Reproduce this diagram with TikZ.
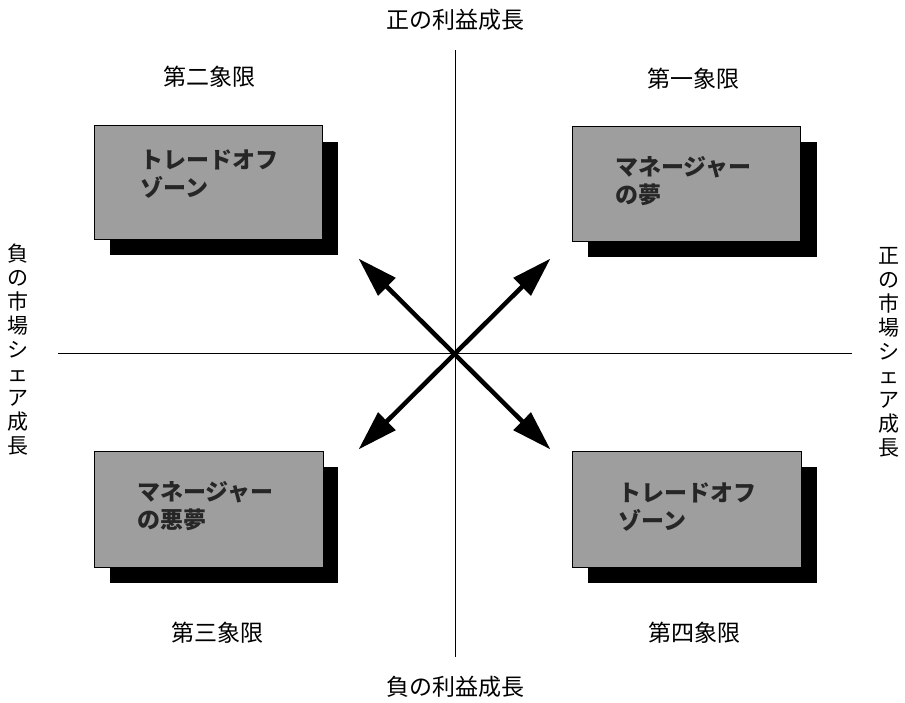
\documentclass[tikz,border=0pt]{standalone}
\usepackage{fontspec}
\setmainfont{Noto Sans CJK JP}
\usetikzlibrary{arrows.meta}
\tikzset{
  lbl/.style={font=\fontsize{23}{26}\selectfont, inner sep=0pt},
  vlbl/.style={font=\fontsize{21}{24}\selectfont, inner sep=0pt, align=center},
  shadowbox/.style={fill=black, draw=none},
  zonebox/.style={fill=black!38, draw=black, line width=1pt},
  zonetext/.style={font=\fontsize{23}{28}\selectfont\bfseries, text=black!85, align=left, anchor=north west, inner sep=0pt},
  axis/.style={line width=1pt},
  arr/.style={line width=4.5pt, {Triangle[length=40pt,width=24pt]}-{Triangle[length=40pt,width=24pt]}, shorten <=-2pt, shorten >=-2pt}
}
\begin{document}
\begin{tikzpicture}[x=1pt,y=-1pt]
\useasboundingbox (0,0) rectangle (905,702);
% axes
\coordinate (vt) at (455,50);
\coordinate (vb) at (455,657);
\coordinate (hl) at (58,353);
\coordinate (hr) at (852,353);
\coordinate (c) at (455,353);
\draw[axis] (vt) -- (vb);
\draw[axis] (hl) -- (hr);
% boxes: shadows
\fill[shadowbox] (110,142) rectangle (338,255);
\fill[shadowbox] (588,142) rectangle (817,257);
\fill[shadowbox] (110,467) rectangle (338,583);
\fill[shadowbox] (588,467) rectangle (817,583);
% boxes
\node[zonebox, minimum width=228pt, minimum height=114pt, anchor=north west] (b2) at (94,125) {};
\node[zonebox, minimum width=228pt, minimum height=115pt, anchor=north west] (b1) at (572,126) {};
\node[zonebox, minimum width=229pt, minimum height=116pt, anchor=north west] (b3) at (94,451) {};
\node[zonebox, minimum width=229pt, minimum height=116pt, anchor=north west] (b4) at (572,451) {};
% box texts
\node[zonetext] (t2) at (140,150) {トレードオフ\\ゾーン};
\node[zonetext] (t1) at (615,156) {マネージャー\\の夢};
\node[zonetext] (t3) at (137,481) {マネージャー\\の悪夢};
\node[zonetext] (t4) at (618,483) {トレードオフ\\ゾーン};
% quadrant labels
\node[lbl] (q2) at (209,77) {第二象限};
\node[lbl] (q1) at (693,79) {第一象限};
\node[lbl] (q3) at (217,633) {第三象限};
\node[lbl] (q4) at (694,633) {第四象限};
\node[lbl] (top) at (455,20) {正の利益成長};
\node[lbl] (bot) at (455,687) {負の利益成長};
\node[vlbl] (left) at (18,350) {負\\の\\市\\場\\シ\\ェ\\ア\\成\\長};
\node[vlbl] (right) at (889,352) {正\\の\\市\\場\\シ\\ェ\\ア\\成\\長};
% arrows
\coordinate (atl) at (360,260);
\coordinate (atr) at (549,260);
\coordinate (abl) at (360,448);
\coordinate (abr) at (549,448);
\draw[arr] (atl) -- (abr);
\draw[arr] (atr) -- (abl);
\end{tikzpicture}
\end{document}
